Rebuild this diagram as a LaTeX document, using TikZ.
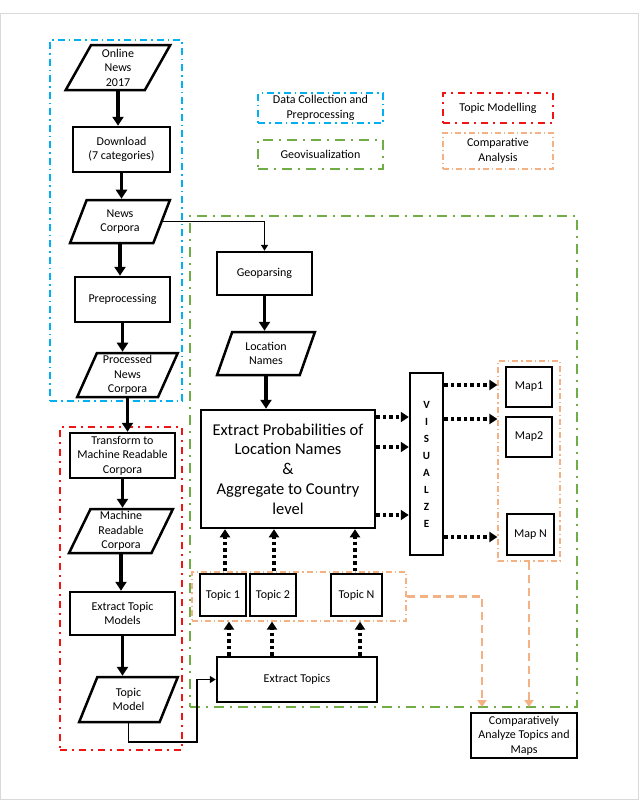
\documentclass[tikz,border=0pt]{standalone}
\usepackage{fontspec}
\setmainfont{Carlito}
\usetikzlibrary{shapes.geometric,arrows.meta,calc}
\definecolor{cblue}{RGB}{0,176,240}
\definecolor{cred}{RGB}{240,20,20}
\definecolor{cgreen}{RGB}{112,173,71}
\definecolor{corange}{RGB}{244,177,131}
\begin{document}
\begin{tikzpicture}[x=1pt,y=-1pt,
  lbl/.style={font=\fontsize{12}{14.5}\selectfont,align=center,inner sep=0pt},
  pbox/.style={lbl,draw,line width=2.5pt,rectangle},
  para/.style={lbl,draw,line width=2.5pt,trapezium,trapezium left angle=68,trapezium right angle=112,trapezium stretches=true},
  arr/.style={line width=3.5pt,-{Triangle[length=9pt,width=11pt]}},
  thinarr/.style={line width=1.6pt,-{Triangle[length=6pt,width=7pt]}},
  dotarr/.style={line width=3.5pt,dash pattern=on 3.5pt off 3pt,-{Triangle[length=8pt,width=10pt]}},
  orarr/.style={corange,line width=2.8pt,dash pattern=on 8pt off 5pt,-{Triangle[length=7pt,width=9pt]}},
  bluebox/.style={draw=cblue,line width=2pt,dash pattern=on 7pt off 4pt on 1.5pt off 4pt,fill=none},
  redbox/.style={draw=cred,line width=2.4pt,dash pattern=on 7pt off 5pt on 2pt off 5pt,fill=none},
  greenbox/.style={draw=cgreen,line width=2.6pt,dash pattern=on 10pt off 6pt on 2pt off 6pt,fill=none},
  orbox/.style={draw=corange,line width=1.3pt,dash pattern=on 6pt off 3pt on 1.2pt off 3pt,fill=none}]
\useasboundingbox (0,0) rectangle (639,801);
\draw[black!15,line width=0.8pt] (0.5,13) rectangle (638,799);

% group frames
\node[bluebox,minimum width=132pt,minimum height=361pt,inner sep=0pt] (gblue) at (116,220.5) {};
\node[redbox,minimum width=122pt,minimum height=323pt,inner sep=0pt] (gred) at (121,588.5) {};
\node[greenbox,minimum width=387pt,minimum height=491pt,inner sep=0pt] (ggreen) at (383.5,461.5) {};

% legend
\node[bluebox,lbl,minimum width=125pt,minimum height=30pt] (lg1) at (320.5,108) {Data Collection and\\Preprocessing};
\node[greenbox,lbl,minimum width=125pt,minimum height=29pt] (lg2) at (320.5,154.5) {Geovisualization};
\node[redbox,lbl,minimum width=110pt,minimum height=30pt] (lg3) at (498,108) {Topic Modelling};
\node[orbox,lbl,minimum width=110pt,minimum height=36pt] (lg4) at (498,151) {Comparative\\Analysis};

% left column
\node[para,minimum width=105pt,minimum height=45pt] (online) at (118,67.5) {Online\\News\\2017};
\node[pbox,minimum width=97pt,minimum height=45pt] (down) at (121.5,149.5) {Download\\(7 categories)};
\node[para,minimum width=100pt,minimum height=43pt] (newsc) at (120,221.5) {News\\Corpora};
\node[pbox,minimum width=95pt,minimum height=45pt] (prep) at (122.5,299.5) {Preprocessing};
\node[para,minimum width=101pt,minimum height=44pt] (procn) at (127.5,375) {Processed\\News\\Corpora};

\node[pbox,minimum width=105pt,minimum height=45pt] (trans) at (122.5,455.5) {Transform to\\Machine Readable\\Corpora};
\node[para,minimum width=104pt,minimum height=44pt] (machr) at (121,531) {Machine\\Readable\\Corpora};
\node[pbox,minimum width=105pt,minimum height=43pt] (extm) at (122.5,613.5) {Extract Topic\\Models};
\node[para,minimum width=99pt,minimum height=45pt] (topicm) at (128.5,699.5) {Topic\\Model};

\draw[arr] (online.south) -- (online.south |- down.north);
\draw[arr] (down.south) -- (down.south |- newsc.north);
\draw[arr] (newsc.south) -- (newsc.south |- prep.north);
\draw[arr] (prep.south) -- (prep.south |- procn.north);
\draw[arr] (procn.south) -- (procn.south |- trans.north);
\draw[arr] (trans.south) -- (trans.south |- machr.north);
\draw[arr] (machr.south) -- (machr.south |- extm.north);
\draw[arr] (extm.south) -- (extm.south |- topicm.north);

% geovisualization part
\node[pbox,minimum width=95pt,minimum height=43pt] (geo) at (264.5,273.5) {Geoparsing};
\node[para,minimum width=98pt,minimum height=43pt] (locn) at (266,353.5) {Location\\Names};
\node[pbox,minimum width=174pt,minimum height=118pt,font=\fontsize{16.5}{19.8}\selectfont] (exprob) at (288,469) {Extract Probabilities of\\Location Names\\\&\\Aggregate to Country\\level};
\node[pbox,minimum width=33pt,minimum height=182pt,font=\bfseries\fontsize{11}{17}\selectfont] (vis) at (426.5,464) {V\\I\\S\\U\\A\\L\\Z\\E};

\node[orbox,minimum width=62pt,minimum height=200pt,inner sep=0pt] (mapbox) at (529,461) {};
\node[pbox,minimum width=46pt,minimum height=40pt] (map1) at (529,387) {Map1};
\node[pbox,minimum width=46pt,minimum height=40pt] (map2) at (529,437) {Map2};
\node[pbox,minimum width=47pt,minimum height=41pt] (mapn) at (530.5,534.5) {Map N};

\node[orbox,minimum width=214pt,minimum height=49pt,inner sep=0pt] (topbox) at (299,596.5) {};
\node[pbox,minimum width=46pt,minimum height=42pt] (t1) at (223,595) {Topic 1};
\node[pbox,minimum width=46pt,minimum height=42pt] (t2) at (273,595) {Topic 2};
\node[pbox,minimum width=51pt,minimum height=42pt] (tn) at (356.5,595) {Topic N};

\node[pbox,minimum width=160pt,minimum height=45pt] (extop) at (297,679.5) {Extract Topics};
\node[pbox,minimum width=106pt,minimum height=45pt] (comp) at (524,735.5) {Comparatively\\Analyze Topics and\\Maps};

\draw[thinarr] (newsc.east) -| (geo.north);
\draw[arr] (geo.south) -- (geo.south |- locn.north);
\draw[arr] (locn.south) -- (locn.south |- exprob.north);

\coordinate (c1) at (197,742);
\draw[thinarr] (topicm.south) |- (c1) |- (extop.west);

% topics dotted arrows
\draw[dotarr] (extop.north -| 229,0) -- (topbox.south -| 229,0);
\draw[dotarr] (extop.north -| 272,0) -- (topbox.south -| 272,0);
\draw[dotarr] (extop.north -| 360,0) -- (topbox.south -| 360,0);
\draw[dotarr] (topbox.north -| 225,0) -- (exprob.south -| 225,0);
\draw[dotarr] (topbox.north -| 274,0) -- (exprob.south -| 274,0);
\draw[dotarr] (topbox.north -| 355,0) -- (exprob.south -| 355,0);

% to visualize
\draw[dotarr] (exprob.east |- 0,417) -- (vis.west |- 0,417);
\draw[dotarr] (exprob.east |- 0,447) -- (vis.west |- 0,447);
\draw[dotarr] (exprob.east |- 0,515) -- (vis.west |- 0,515);
% to maps
\draw[dotarr] (vis.east |- 0,385) -- (mapbox.west |- 0,385);
\draw[dotarr] (vis.east |- 0,419) -- (mapbox.west |- 0,419);
\draw[dotarr] (vis.east |- 0,537) -- (mapbox.west |- 0,537);

% comparative arrows
\coordinate (o1) at (482,707);
\coordinate (o2) at (529,707);
\draw[orarr] (topbox.east) -| (o1);
\draw[orarr] (mapbox.south) -- (o2);
\end{tikzpicture}
\end{document}
